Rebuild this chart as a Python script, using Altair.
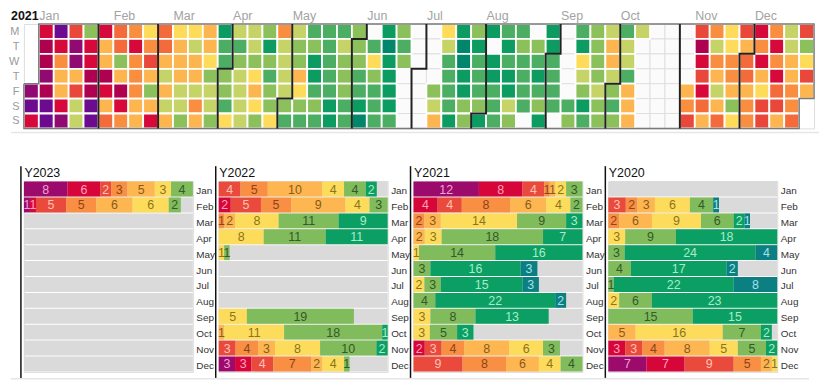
import calendar
import datetime
import altair as alt
import pandas as pd

FONT = "Liberation Sans"
YEAR = 2021
DAY_LABELS = ["M", "T", "W", "T", "F", "S", "S"]
MONTHS = ["Jan", "Feb", "Mar", "Apr", "May", "Jun",
          "Jul", "Aug", "Sep", "Oct", "Nov", "Dec"]

# heat levels (worst -> best), '.' = no data
HEAT_CODES = ["V", "P", "M", "C", "R", "Q", "o", "l", "y", "g", "G", "m", "d", "D"]
HEAT_COLORS = ["#6c0a90", "#900a72", "#ae0150", "#d7083a", "#e9473a", "#f36a3b",
               "#f98e41", "#fdb64f", "#fedb59", "#c6d467", "#8bc05a", "#4cae62",
               "#0c9c62", "#00866b"]

# one string per calendar week column, Monday..Sunday ('_' = outside the year)
HEAT_WEEKS = [
    "____PVC", "CMMPMVV", "VCollCP", "RPPlRgg", "GCCMMVV",
    "CllMClQ", "QQGlMCo", "oCoooll", "yoRlGlC", "QQlglgl",
    "ylllggG", "ygllgol", "llyGggG", "dmmGGmy", "gmGgggg",
    "ggGylyG", "GdGmGGy", "oggggGm", "gGGlyGm", "mGddmGm",
    "mmmmmdd", "mgGGGmm", "GGGmmdD", ".myGmmm", "dDddddm",
    "GmG....", ".......", "....Ggl", "ygmmmmd", "dDDddGG",
    "GdmmmGd", "d.ddmmm", "mdmddgG", "mGmmmm.", ".GmdmGd",
    "ddmmmm.", ".....mG", "mdygGdm", "GGGGgGG", "gllgGmG",
    "mggmlll", "g......", ".......", ".......", "....loR",
    "RMCRCQl", "ogolglQ", "yyoolGy", "RlQQloo", "CoClyRR",
    "oCoCQRl", "ggllooQ", "RGyRl__",
]

# monthly day counts per category
CATS = ["P", "C", "R", "O", "L", "Y", "G", "D", "T"]
CAT_COLORS = ["#9c0a6c", "#d7063a", "#e94a3c", "#f98f43", "#fdb650",
              "#fedc5b", "#80bb5c", "#0c9f64", "#0b7f82"]
CAT_TEXT = ["#f0a3d6", "#ffa3b5", "#ffc2b4", "#8a4519", "#8a5a1e",
            "#8a7420", "#35592a", "#a8ecc8", "#a6e2e6"]

BAR_YEARS = [2023, 2022, 2021, 2020]
BARS_2023 = ["P8 C6 R2 O3 L5 Y3 G4", "P1 C1 R5 O5 L6 Y6 G2", "", "", "", "",
             "", "", "", "", "", ""]
BARS_2022 = ["R4 O5 L10 Y4 G4 D2", "C2 R5 O5 L9 Y4 G3", "O1 L2 Y8 G11 D9",
             "Y8 G11 D11", "Y1 G1", "", "", "", "Y5 G19", "L1 Y11 G18 D1",
             "R3 O4 L3 Y8 G10 D2", "P3 C3 R4 O7 L2 Y4 G1"]
BARS_2021 = ["P12 C8 R4 O1 L1 Y2 G3", "C4 R4 O8 L6 Y4 G2", "O2 L3 Y14 G9 D3",
             "L2 Y3 G18 D7", "Y1 G14 D16", "G3 D16 T3", "Y2 G3 D15 T3",
             "G4 D22 T2", "Y3 G8 D13", "Y3 G5 D3", "C2 R3 O4 L8 Y6 G3",
             "R9 O8 L6 Y4 G4"]
BARS_2020 = ["", "R3 O2 L3 Y6 G4 T1", "O2 L6 Y9 G6 D2 T1", "Y3 G9 D18",
             "G3 D24 T4", "G4 D17 T2", "G1 D22 T8", "Y2 G6 D23", "G15 D15",
             "L5 Y16 G7 D2", "C3 R3 O4 L8 Y5 G5 D2", "P7 C7 R9 O5 L2 Y1"]
BARS = {2023: BARS_2023, 2022: BARS_2022, 2021: BARS_2021, 2020: BARS_2020}

# ---------------- heatmap ----------------
jan1 = datetime.date(YEAR, 1, 1)
start = jan1 - datetime.timedelta(days=jan1.weekday())


def pos(d):
    return (d - start).days // 7, d.weekday()


cells = []
for c, col in enumerate(HEAT_WEEKS):
    for r, code in enumerate(col):
        d = start + datetime.timedelta(days=7 * c + r)
        if d.year != YEAR or code == "_":
            continue
        cells.append(dict(c0=c, c1=c + 1, r0=r, r1=r + 1, level=code))
cells_df = pd.DataFrame(cells)

seg_rows = []
for m in range(1, 12):
    last = datetime.date(YEAR, m, calendar.monthrange(YEAR, m)[1])
    c, r = pos(last)
    if r == 6:
        pts = [(c + 1, 0), (c + 1, 7)]
    else:
        pts = [(c + 1, 0), (c + 1, r + 1), (c, r + 1), (c, 7)]
    for k, (x, y) in enumerate(pts):
        seg_rows.append(dict(seg=m, ord=k, x=x, y=y))
seg_df = pd.DataFrame(seg_rows)

fc, fr = pos(jan1)
lc, lr = pos(datetime.date(YEAR, 12, 31))
outline_pts = [(fc, fr), (fc + 1, fr), (fc + 1, 0), (lc + 1, 0), (lc + 1, lr + 1),
               (lc, lr + 1), (lc, 7), (fc, 7), (fc, fr)]
outline_df = pd.DataFrame([dict(ord=k, x=x, y=y) for k, (x, y) in enumerate(outline_pts)])

mlab_df = pd.DataFrame([dict(name=MONTHS[m - 1], col=pos(datetime.date(YEAR, m, 8))[0])
                        for m in range(1, 13)])

NCOL = len(HEAT_WEEKS)
LEFT = -13
xs = alt.Scale(domain=[0, NCOL], nice=False, zero=False)
ys = alt.Scale(domain=[0, 7], reverse=True, nice=False)
day_axis = alt.Axis(values=[i + 0.5 for i in range(7)],
                    labelExpr="%s[floor(datum.value)]" % str(DAY_LABELS),
                    ticks=False, domain=False, grid=False, title=None, minExtent=0,
                    labelColor="#9a9a9a", labelFontSize=11, labelPadding=5, labelFont=FONT)
one = pd.DataFrame({"a": [0]})

missing = alt.Chart(cells_df).transform_filter("datum.level == '.'").mark_rect(
    fill="#fbfbfb", stroke="#e0e0e0", strokeWidth=1).encode(
    x=alt.X("c0:Q", scale=xs, axis=None), x2="c1:Q",
    y=alt.Y("r0:Q", scale=ys, axis=day_axis), y2="r1:Q")
colored = alt.Chart(cells_df).transform_filter("datum.level != '.'").mark_rect(
    stroke="white", strokeWidth=1.8).encode(
    x=alt.X("c0:Q", scale=xs, axis=None), x2="c1:Q",
    y=alt.Y("r0:Q", scale=ys, axis=day_axis), y2="r1:Q",
    color=alt.Color("level:N", scale=alt.Scale(domain=HEAT_CODES, range=HEAT_COLORS), legend=None))
outline = alt.Chart(outline_df).mark_line(color="#7a7a7a", strokeWidth=1.5).encode(
    x=alt.X("x:Q", scale=xs, axis=None), y=alt.Y("y:Q", scale=ys, axis=day_axis),
    order="ord:Q")
bounds = alt.Chart(seg_df).mark_line(color="#222222", strokeWidth=2).encode(
    x=alt.X("x:Q", scale=xs, axis=None), y=alt.Y("y:Q", scale=ys, axis=day_axis),
    detail="seg:N", order="ord:Q")
mlabels = alt.Chart(mlab_df).mark_text(
    align="left", baseline="top", fontSize=12.5, color="#a3a3a3", font=FONT, dx=0.5).encode(
    x=alt.X("col:Q", scale=xs, axis=None), y=alt.value(-14), text="name:N")
ylabel = alt.Chart(pd.DataFrame({"t": [str(YEAR)]})).mark_text(
    align="left", baseline="top", fontSize=12.5, fontWeight="bold", color="#111111", font=FONT).encode(
    x=alt.value(LEFT), y=alt.value(-14), text="t:N")
sep = alt.Chart(one).mark_rule(color="#e6e6e6", strokeWidth=1.5).encode(
    x=alt.value(LEFT), x2=alt.value(800), y=alt.value(109))

heat = alt.layer(missing, colored, outline, bounds, mlabels, ylabel, sep).properties(
    width=NCOL * 15, height=7 * 15)

# ---------------- monthly bars ----------------
PW, PH = 170, 192
panels = []
for i, year in enumerate(BAR_YEARS):
    recs = []
    for mi, s in enumerate(BARS[year]):
        days = calendar.monthrange(year, mi + 1)[1]
        for tok in s.split():
            cat, n = tok[0], int(tok[1:])
            recs.append(dict(month=MONTHS[mi], cat=cat, idx=CATS.index(cat), n=n, frac=n / days))
    df = pd.DataFrame(recs)
    bg_df = pd.DataFrame({"month": MONTHS, "x0": [0.0] * 12, "x1": [1.0] * 12})

    xsc = alt.Scale(domain=[0, 1], nice=False)
    ysc = alt.Scale(domain=MONTHS, paddingInner=0.0625, paddingOuter=0.03125)
    yaxis = alt.Axis(orient="right", ticks=False, domain=False, grid=False, title=None,
                     labelPadding=3, labelFontSize=10, labelColor="#333333", labelFont=FONT,
                     labelOffset=2, minExtent=0)
    yenc = alt.Y("month:N", scale=ysc, sort=MONTHS, axis=yaxis)

    bg = alt.Chart(bg_df).mark_bar(color="#dadada").encode(
        x=alt.X("x0:Q", scale=xsc, axis=None), x2="x1:Q", y=yenc)
    stacked = alt.Chart(df).transform_stack(
        stack="frac", groupby=["month"], as_=["x0", "x1"],
        sort=[alt.SortField("idx", order="ascending")]).transform_calculate(
        xm="(datum.x0 + datum.x1) / 2")
    segs = stacked.mark_bar().encode(
        x=alt.X("x0:Q", scale=xsc, axis=None), x2="x1:Q", y=yenc,
        color=alt.Color("cat:N", scale=alt.Scale(domain=CATS, range=CAT_COLORS), legend=None))
    txt = stacked.mark_text(fontSize=12.5, font=FONT, baseline="middle", align="center", dy=0.5).encode(
        x=alt.X("xm:Q", scale=xsc, axis=None), y=yenc, text="n:Q",
        color=alt.Color("cat:N", scale=alt.Scale(domain=CATS, range=CAT_TEXT), legend=None))
    title = alt.Chart(pd.DataFrame({"t": [f"Y{year}"]})).mark_text(
        align="left", baseline="alphabetic", fontSize=12.5, color="#111111", font=FONT).encode(
        x=alt.value(0.5), y=alt.value(-4), text="t:N")
    vline = alt.Chart(one).mark_rule(color="#111111", strokeWidth=1.5).encode(
        x=alt.value(-3), y=alt.value(-15), y2=alt.value(PH + 6))
    left = LEFT if i == 0 else -6
    right = 202 if i == len(BAR_YEARS) - 1 else 190
    hline = alt.Chart(one).mark_rule(color="#e6e6e6", strokeWidth=1.5).encode(
        x=alt.value(left), x2=alt.value(right), y=alt.value(PH + 7))

    p = alt.layer(bg, segs, txt, title, vline, hline).resolve_scale(color="independent").properties(
        width=PW, height=PH)
    panels.append(p)

row = alt.hconcat(*panels, spacing=26, bounds="flush")
chart = alt.vconcat(heat, row, spacing=30, bounds="full").properties(
    padding={"left": 0, "top": 0, "right": 0, "bottom": 0}
).configure_view(stroke=None).configure(font=FONT)

chart.save("out.html", embed_options={"renderer": "svg", "actions": False})
